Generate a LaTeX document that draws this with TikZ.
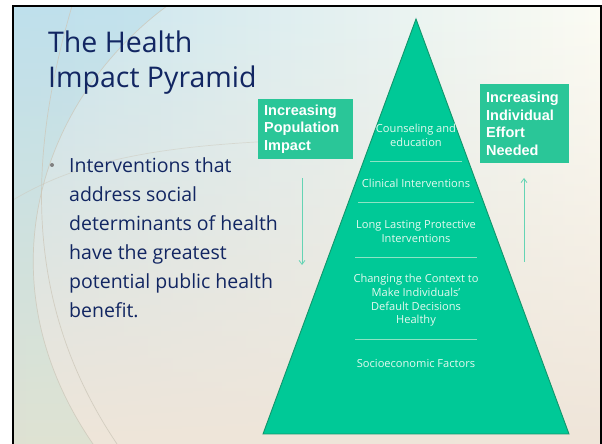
\documentclass[tikz,border=0pt]{standalone}
\usepackage{fontspec}
\setmainfont{Open Sans}
\newfontfamily\labelfont{Liberation Sans}
\usetikzlibrary{arrows.meta,fadings}

\definecolor{navy}{RGB}{18,38,98}
\definecolor{pyrfill}{RGB}{0,201,151}
\definecolor{pyredge}{RGB}{18,150,108}
\definecolor{sepline}{RGB}{140,228,196}
\definecolor{pyrtext}{RGB}{228,250,240}
\definecolor{boxfill}{RGB}{42,198,152}
\definecolor{arrowcol}{RGB}{100,212,180}
\definecolor{skyblue}{RGB}{198,228,238}
\definecolor{cream}{RGB}{252,252,244}
\definecolor{sand}{RGB}{239,229,217}
\definecolor{arcline}{RGB}{205,200,186}
\definecolor{tintTop}{RGB}{185,222,236}
\definecolor{tintBot}{RGB}{212,224,206}

\tikzfading[name=fadeup, top color=transparent!100, middle color=transparent!75, bottom color=transparent!0]

\begin{document}
\begin{tikzpicture}[x=1pt,y=1pt,
  titletext/.style={font=\fontsize{28.5}{35}\selectfont, text=navy, align=left, inner sep=0pt},
  bullettext/.style={font=\fontsize{19.5}{29}\selectfont, text=navy, align=left, inner sep=0pt},
  pyrlabel/.style={font=\fontsize{11.1}{13.7}\selectfont, text=pyrtext, align=center, inner sep=0pt},
  effortbox/.style={fill=boxfill, text=white, align=left, inner xsep=6pt, inner ysep=0pt,
    font=\labelfont\bfseries\fontsize{14.5}{17.5}\selectfont},
  sep/.style={draw=sepline, line width=0.8pt},
  flowarrow/.style={draw=arrowcol, line width=0.8pt, -{Straight Barb[length=4pt,width=6pt]}},
  decoarc/.style={draw=arcline, line width=0.7pt, opacity=0.8}]

\useasboundingbox (0,0) rectangle (602,444);
\fill[white] (0,0) rectangle (602,444);

% slide background
\shade[left color=skyblue, right color=cream] (13,0) rectangle (601,438);
\fill[sand, path fading=fadeup] (13,0) rectangle (601,438);

% tinted band left of the sweeping curve
\begin{scope}
  \clip (13,438) -- (167,438) .. controls (40,344) and (-20,164) .. (93,0) -- (13,0) -- cycle;
  \shade[top color=tintTop, bottom color=tintBot, opacity=0.6] (13,0) rectangle (200,438);
\end{scope}

% decorative curves
\draw[decoarc] (167,438) .. controls (40,344) and (-20,164) .. (93,0);
\draw[decoarc] (72,438) .. controls (30,294) and (20,144) .. (117,0);
\draw[decoarc, opacity=0.5] (13,244) .. controls (80,284) and (160,299) .. (300,304);

% slide frame
\draw[black, line width=2pt] (13,0) -- (13,438) -- (601,438) -- (601,0);

% title and bullet
\node[titletext, anchor=north west] (title) at (48,413) {The Health\\Impact Pyramid};
\node[circle, fill=gray, inner sep=0pt, minimum size=4pt] (dot) at (52,279) {};
\node[bullettext, anchor=north west] (bullet) at (69,287)
  {Interventions that\\address social\\determinants of health\\have the greatest\\potential public health\\benefit.};

% pyramid
\coordinate (apex) at (416,425);
\coordinate (bl) at (263,10);
\coordinate (br) at (569,10);
\filldraw[fill=pyrfill, draw=pyredge, line width=0.9pt, line join=miter] (apex) -- (br) -- (bl) -- cycle;

\draw[sep] (370,283) -- (462,283);
\draw[sep] (358,242) -- (474,242);
\draw[sep] (355,187) -- (477,187);
\draw[sep] (355,105) -- (477,105);

\node[pyrlabel] (counsel) at (416,309) {Counseling and\\education};
\node[pyrlabel] (clinical) at (416,261) {Clinical Interventions};
\node[pyrlabel] (lasting) at (416,212.5) {Long Lasting Protective\\Interventions};
\node[pyrlabel] (context) at (416,143.5) {Changing the Context to\\Make Individuals'\\Default Decisions\\Healthy};
\node[pyrlabel] (socio) at (416,81) {Socioeconomic Factors};

% side boxes
\node[effortbox, text width=83pt, minimum height=60pt, anchor=north west] (popbox) at (258,345)
  {Increasing\\Population\\Impact};
\node[effortbox, text width=77pt, minimum height=79pt, anchor=north west] (effbox) at (480,360)
  {Increasing\\Individual\\Effort\\Needed};

% direction arrows
\coordinate (popTop) at (302,266);
\coordinate (popEnd) at (302,179);
\coordinate (effBot) at (524,182);
\coordinate (effEnd) at (524,266);
\draw[flowarrow] (popTop) -- (popEnd);
\draw[flowarrow] (effBot) -- (effEnd);

\end{tikzpicture}
\end{document}
